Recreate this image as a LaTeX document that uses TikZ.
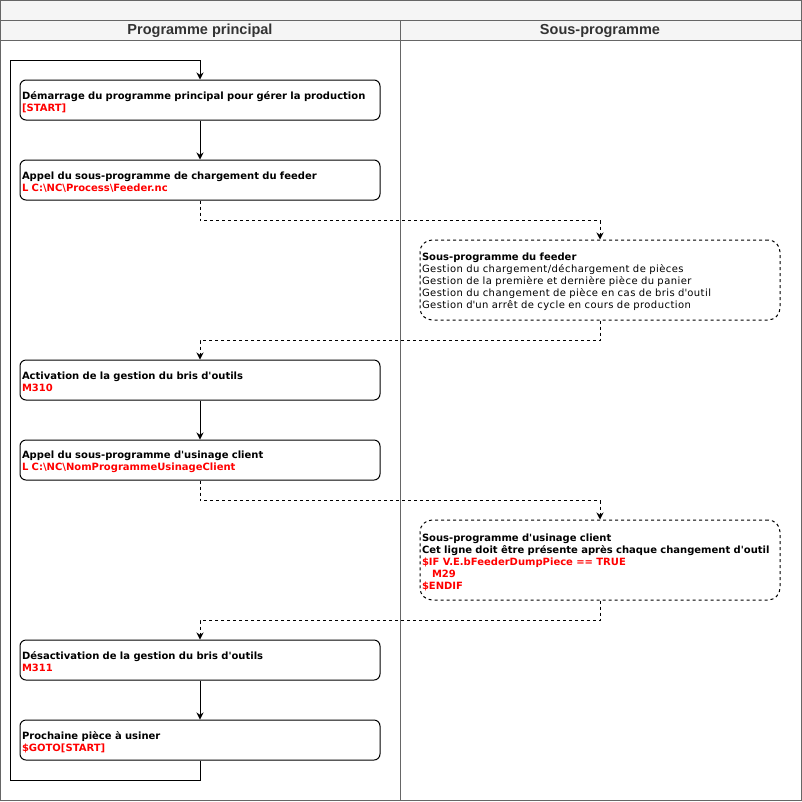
\documentclass[tikz,border=0pt]{standalone}
\usepackage{fontspec}
\setmainfont{DejaVu Sans}
\newfontfamily\regfont[LetterSpace=4.5]{DejaVu Sans}
\newfontfamily\headfont{Liberation Sans}
\usetikzlibrary{arrows.meta}
\definecolor{lanegray}{HTML}{666666}
\definecolor{headfill}{HTML}{F5F5F5}
\definecolor{headtext}{HTML}{333333}
\definecolor{codered}{HTML}{FF0000}
\newcommand\apos{\textquotesingle}
\begin{document}
\begin{tikzpicture}[x=1pt,y=-1pt,
  lane/.style={draw=lanegray, line width=1pt},
  headlabel/.style={font=\headfont\bfseries\fontsize{14.5}{16}\selectfont, text=headtext, inner sep=0pt},
  procbox/.style={draw, line width=1pt, rounded corners=6pt, minimum width=360pt, minimum height=40pt,
    text width=356pt, inner sep=2pt, align=left, font=\fontsize{10}{12}\selectfont\bfseries,
    execute at begin node={\rule{0pt}{12pt}}},
  subbox/.style={procbox, minimum height=80pt, dash pattern=on 3pt off 3pt, rounded corners=12pt},
  flow/.style={draw, line width=1pt, -{Stealth[length=7pt,width=7pt]}},
  dflow/.style={flow, dash pattern=on 3pt off 3pt}
]
\useasboundingbox (0,0) rectangle (802,801);
% frame and lanes
\fill[headfill] (0.5,0.5) rectangle (801.5,40.5);
\draw[lane] (0.5,0.5) rectangle (801.5,800.5);
\draw[lane] (0.5,20.5) -- (801.5,20.5);
\draw[lane] (0.5,40.5) -- (801.5,40.5);
\draw[lane] (400.5,20.5) -- (400.5,800.5);
\node[headlabel] (hmain) at (200,31) {Programme principal};
\node[headlabel] (hsub) at (600,31) {Sous-programme};
% boxes
\node[procbox] (b1) at (200,100) {Démarrage du programme principal pour gérer la production\\\textcolor{codered}{[START]}};
\node[procbox] (b2) at (200,180) {Appel du sous-programme de chargement du feeder\\\textcolor{codered}{L C:\textbackslash NC\textbackslash Process\textbackslash Feeder.nc}};
\node[subbox] (sA) at (600,280) {Sous-programme du feeder\\{\regfont\mdseries Gestion du chargement/déchargement de pièces\\Gestion de la première et dernière pièce du panier\\Gestion du changement de pièce en cas de bris d\apos outil\\Gestion d\apos un arrêt de cycle en cours de production}};
\node[procbox] (b3) at (200,380) {Activation de la gestion du bris d\apos outils\\\textcolor{codered}{M310}};
\node[procbox] (b4) at (200,460) {Appel du sous-programme d\apos usinage client\\\textcolor{codered}{L C:\textbackslash NC\textbackslash NomProgrammeUsinageClient}};
\node[subbox] (sB) at (600,560) {Sous-programme d\apos usinage client\\Cet ligne doit être présente après chaque changement d\apos outil\\\textcolor{codered}{\$IF V.E.bFeederDumpPiece == TRUE}\\\hspace*{10pt}\textcolor{codered}{M29}\\\textcolor{codered}{\$ENDIF}};
\node[procbox] (b5) at (200,660) {Désactivation de la gestion du bris d\apos outils\\\textcolor{codered}{M311}};
\node[procbox] (b6) at (200,740) {Prochaine pièce à usiner\\\textcolor{codered}{\$GOTO[START]}};
% connectors
\coordinate (loopL) at (10,60);
\draw[flow] (b1) -- (b2);
\draw[dflow] (b2.south) -- ++(0,20) -| (sA.north);
\draw[dflow] (sA.south) -- ++(0,20) -| (b3.north);
\draw[flow] (b3) -- (b4);
\draw[dflow] (b4.south) -- ++(0,20) -| (sB.north);
\draw[dflow] (sB.south) -- ++(0,20) -| (b5.north);
\draw[flow] (b5) -- (b6);
\draw[flow] (b6.south) -- ++(0,20) -| (loopL) -| (b1.north);
\end{tikzpicture}
\end{document}
